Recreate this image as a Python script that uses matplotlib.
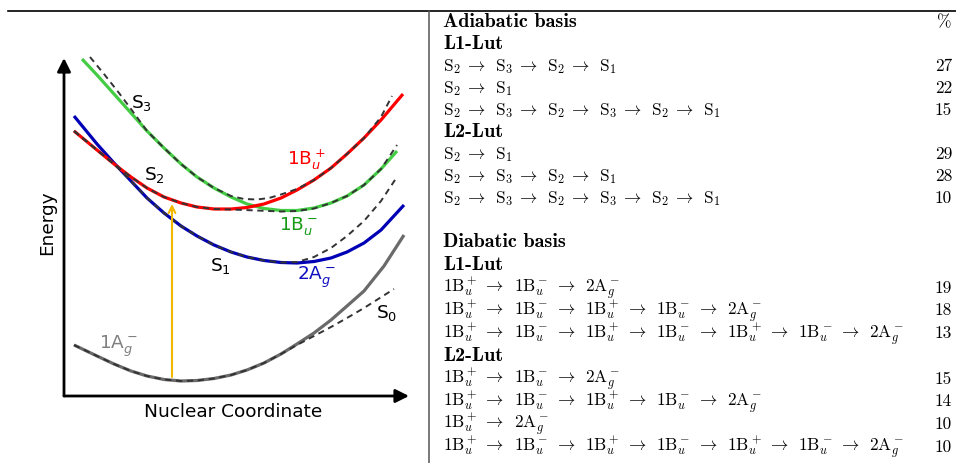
import matplotlib.pyplot as plt

# schematic potential energy curves (x: nuclear coordinate, e: energy, arbitrary units)
x_bu_plus = [10, 33, 50, 67, 83, 100, 117, 133, 150, 167, 183, 200, 217, 233, 250, 267, 283, 300, 317, 339]
e_bu_plus = [265, 246, 232, 219, 208, 199, 193, 189, 187, 187, 188.5, 192, 198, 206, 216, 228, 242, 258, 276, 302]

x_bu_minus = [18, 33, 50, 67, 83, 100, 117, 133, 150, 167, 183, 200, 217, 233, 250, 267, 283, 300, 317, 333]
e_bu_minus = [337, 321, 302, 283, 265, 248, 232, 219, 208, 199, 192, 187.5, 185.5, 185.5, 188, 193, 200, 211, 227, 245]

x_ag2 = [10, 33, 50, 67, 83, 100, 117, 133, 150, 167, 183, 200, 217, 233, 250, 267, 283, 300, 317, 340]
e_ag2 = [280, 252, 233, 215, 198, 183, 170, 160, 151, 144, 139, 135.5, 133.5, 133, 134.5, 138, 144, 153, 166, 191]

x_ag1 = [10, 33, 50, 67, 83, 100, 117, 133, 150, 167, 183, 200, 217, 233, 250, 267, 283, 300, 320, 340]
e_ag1 = [51, 40, 32, 25, 20, 16.5, 15, 15.5, 17.5, 21, 26, 33, 42, 52, 63, 76, 90, 105, 130, 161]

# adiabatic states (dashed)
x_s3 = [26, 40, 55, 67, 83, 100, 117, 133, 150, 167, 180, 193, 205, 217, 233, 250, 267, 283, 300, 317, 328]
e_s3 = [339, 322, 303, 287, 265, 248, 232, 219, 208, 200, 197, 196.5, 198, 201.5, 207, 216, 228, 242, 258, 279, 300]

x_s2 = [10, 33, 50, 67, 83, 100, 117, 133, 150, 167, 180, 193, 205, 217, 233, 250, 267, 283, 300, 317, 333]
e_s2 = [265, 246, 232, 219, 208, 199, 193, 189, 187, 186.5, 186, 185.5, 185, 184.5, 185, 187.5, 193, 200, 211, 227, 251]

x_s1 = [10, 33, 50, 67, 83, 100, 117, 133, 150, 167, 183, 200, 217, 233, 250, 267, 283, 300, 317, 333]
e_s1 = [265, 246, 232, 215, 198, 183, 170, 160, 151, 144, 139, 135.5, 133.5, 134, 139, 148, 160, 175, 195, 219]

x_s0 = [10, 33, 50, 67, 83, 100, 117, 133, 150, 167, 183, 200, 217, 233, 250, 267, 283, 300, 330]
e_s0 = [51, 40, 32, 25, 20, 16.5, 15, 15.5, 17.5, 21, 26, 33, 42, 51, 60, 69, 78, 88, 107]

# vertical excitation
x_exc = 108
e_exc = [19, 192]

# table: most frequent pathways
adia_l1 = [[2, 3, 2, 1], [2, 1], [2, 3, 2, 3, 2, 1]]
adia_l1_pct = [27, 22, 15]
adia_l2 = [[2, 1], [2, 3, 2, 1], [2, 3, 2, 3, 2, 1]]
adia_l2_pct = [29, 28, 10]

dia_l1 = [['1Bu+', '1Bu-', '2Ag-'],
          ['1Bu+', '1Bu-', '1Bu+', '1Bu-', '2Ag-'],
          ['1Bu+', '1Bu-', '1Bu+', '1Bu-', '1Bu+', '1Bu-', '2Ag-']]
dia_l1_pct = [19, 18, 13]
dia_l2 = [['1Bu+', '1Bu-', '2Ag-'],
          ['1Bu+', '1Bu-', '1Bu+', '1Bu-', '2Ag-'],
          ['1Bu+', '2Ag-'],
          ['1Bu+', '1Bu-', '1Bu+', '1Bu-', '1Bu+', '1Bu-', '2Ag-']]
dia_l2_pct = [15, 14, 10, 10]

tex = {'1Bu+': r'1\mathrm{B}_u^+', '1Bu-': r'1\mathrm{B}_u^-', '2Ag-': r'2\mathrm{A}_g^-'}
arr = r'\:\rightarrow\ \,'


def adia(path):
    return '$' + arr.join(r'\mathrm{S}_%d' % s for s in path) + '$'


def dia(path):
    return '$' + arr.join(tex[s] for s in path) + '$'


W, H = 956, 463
fig = plt.figure(figsize=(W / 100, H / 100), dpi=100)

# ---- left: diagram
ax = fig.add_axes([64 / W, (H - 396) / H, 345 / W, 338 / H])
ax.set_xlim(0, 345)
ax.set_ylim(0, 338)
ax.axis('off')

arrow = dict(arrowstyle='-|>', color='k', lw=2, mutation_scale=20, shrinkA=0, shrinkB=0)
ax.annotate('', xy=(1, 0), xytext=(0, 0), xycoords='axes fraction', arrowprops=arrow)
ax.annotate('', xy=(0, 1), xytext=(0, 0), xycoords='axes fraction', arrowprops=arrow)

solid = dict(lw=2.3, clip_on=False, solid_joinstyle='round', solid_capstyle='butt')
ax.plot(x_ag1, e_ag1, color='#6a6a6a', **solid)
ax.plot(x_ag2, e_ag2, color='#0000b4', **solid)
ax.plot(x_bu_minus, e_bu_minus, color='#44cc44', **solid)
ax.plot(x_bu_plus, e_bu_plus, color='#ff0000', **solid)

dash = dict(color='#333333', lw=1.4, ls=(0, (3.2, 2.4)), clip_on=False, dash_joinstyle='round')
for xs, es in [(x_s0, e_s0), (x_s1, e_s1), (x_s2, e_s2), (x_s3, e_s3)]:
    ax.plot(xs, es, **dash)

ax.annotate('', xy=(x_exc, e_exc[1]), xytext=(x_exc, e_exc[0]),
            arrowprops=dict(arrowstyle='->', color='#f2b700', lw=1.5,
                            shrinkA=0, shrinkB=0, mutation_scale=12))

fs = 13.3
mf = 'dejavusans'
ax.text(78, 293, r'S$_3$', fontsize=fs, ha='center', va='center', math_fontfamily=mf)
ax.text(90, 221, r'S$_2$', fontsize=fs, ha='center', va='center', math_fontfamily=mf)
ax.text(156, 130, r'S$_1$', fontsize=fs, ha='center', va='center', math_fontfamily=mf)
ax.text(323, 83, r'S$_0$', fontsize=fs, ha='center', va='center', math_fontfamily=mf)
ax.text(223, 231, r'1B$_u^+$', fontsize=fs, color='#ff0000', math_fontfamily=mf)
ax.text(215, 166, r'1B$_u^-$', fontsize=fs, color='#159a15', math_fontfamily=mf)
ax.text(233, 116, r'2A$_g^-$', fontsize=fs, color='#1010c0', math_fontfamily=mf)
ax.text(35, 47, r'1A$_g^-$', fontsize=fs, color='#808080', math_fontfamily=mf)

fig.text(47 / W, 1 - 223 / H, 'Energy', fontsize=fs, rotation=90, ha='center', va='center')
fig.text(233 / W, 1 - 412 / H, 'Nuclear Coordinate', fontsize=fs, ha='center', va='center')

# ---- frame lines
fig.add_artist(plt.Line2D([8 / W, 1], [1 - 11 / H, 1 - 11 / H], color='k', lw=1.2))
fig.add_artist(plt.Line2D([429 / W, 429 / W], [0, 1 - 11 / H], color='#555555', lw=1.1))

# ---- right: table
tfs = 12.5
x0, x1 = 443 / W, 952 / W


def row(base, left, pct=None, bold=False):
    y = 1 - base / H
    if bold:
        fig.text(x0, y, left, fontsize=14.5, family='cmb10', va='baseline')
    else:
        fig.text(x0, y, left, fontsize=tfs, math_fontfamily='cm', va='baseline')
    if pct is not None:
        fig.text(x1, y, str(pct), fontsize=tfs, family='cmr10', ha='right', va='baseline')


lines = [('Adiabatic basis', '%', True), ('L1-Lut', None, True)]
lines += [(adia(p), v, False) for p, v in zip(adia_l1, adia_l1_pct)]
lines += [('L2-Lut', None, True)]
lines += [(adia(p), v, False) for p, v in zip(adia_l2, adia_l2_pct)]
for k, (s, v, b) in enumerate(lines):
    row(27.3 + 22.0 * k, s, v, b)

lines = [('Diabatic basis', None, True), ('L1-Lut', None, True)]
lines += [(dia(p), v, False) for p, v in zip(dia_l1, dia_l1_pct)]
lines += [('L2-Lut', None, True)]
lines += [(dia(p), v, False) for p, v in zip(dia_l2, dia_l2_pct)]
for k, (s, v, b) in enumerate(lines):
    row(247.3 + 22.7 * k, s, v, b)

fig.savefig('out.png', dpi=100)
